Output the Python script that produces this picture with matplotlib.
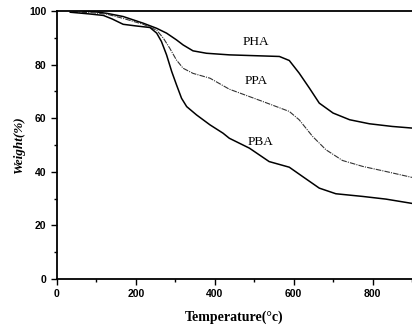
import matplotlib.pyplot as plt
from matplotlib.ticker import MultipleLocator

# TGA curves (temperature in C, weight in %)
t_pha = [67, 100, 126, 168, 219, 253, 278, 303, 320, 345, 379, 437, 500, 564, 589, 614, 640, 665, 700, 742, 792, 850, 900]
w_pha = [100, 99.6, 99.1, 97.9, 95.4, 93.5, 91.7, 89.2, 87.3, 85.1, 84.2, 83.6, 83.3, 83.0, 81.5, 76.8, 71.2, 65.6, 61.9, 59.4, 57.9, 56.9, 56.3]

t_ppa = [40, 90, 126, 168, 219, 253, 270, 286, 303, 320, 345, 388, 437, 522, 589, 614, 648, 682, 724, 775, 834, 900]
w_ppa = [99.6, 99.3, 98.8, 97.2, 95.0, 92.8, 89.8, 86.1, 81.7, 78.6, 76.7, 74.9, 70.8, 66.2, 62.5, 59.4, 53.2, 48.2, 44.2, 42.0, 40.1, 37.9]

t_pba = [34, 80, 118, 140, 168, 200, 236, 253, 265, 278, 291, 303, 316, 329, 354, 388, 421, 437, 488, 538, 589, 623, 665, 707, 775, 834, 900]
w_pba = [99.5, 98.9, 98.3, 97.0, 95.0, 94.4, 93.8, 91.7, 88.6, 83.6, 77.4, 72.5, 67.4, 64.3, 61.2, 57.5, 54.4, 52.5, 48.8, 43.8, 41.7, 38.2, 33.9, 31.8, 30.8, 29.8, 28.2]

labels = ['PHA', 'PPA', 'PBA']
label_pos = [(505, 88.4), (505, 73.9), (517, 51.1)]

fig = plt.figure(figsize=(4.12, 3.3), dpi=100)
ax = fig.add_axes([0.138, 0.1545, 0.862, 0.8125])

ax.plot(t_pha, w_pha, color='black', lw=1.1)
ax.plot(t_ppa, w_ppa, color='#333333', lw=0.8, linestyle=(0, (5, 1, 1, 1)))
ax.plot(t_pba, w_pba, color='black', lw=1.1)

for name, (x, y) in zip(labels, label_pos):
    ax.text(x, y, name, fontsize=9.5, family='Liberation Serif', ha='center', va='center')

ax.set_xlim(0, 900)
ax.set_ylim(0, 100)
ax.xaxis.set_major_locator(MultipleLocator(200))
ax.xaxis.set_minor_locator(MultipleLocator(100))
ax.yaxis.set_major_locator(MultipleLocator(20))
ax.yaxis.set_minor_locator(MultipleLocator(10))
ax.tick_params(which='major', direction='out', length=4, width=1, labelsize=7.5)
ax.tick_params(which='minor', direction='out', length=2.5, width=1)
for lab in ax.get_xticklabels() + ax.get_yticklabels():
    lab.set_family('Liberation Sans')
    lab.set_fontweight('bold')

ax.spines['right'].set_visible(False)
for s in ['left', 'bottom', 'top']:
    ax.spines[s].set_linewidth(1.3)

ax.set_xlabel('Temperature(°c)', fontsize=10, family='Liberation Serif', fontweight='bold', labelpad=8)
ax.set_ylabel('Weight(%)', fontsize=9.5, family='Liberation Serif', fontweight='bold', style='italic', labelpad=3)

fig.savefig('out.png', dpi=100)
